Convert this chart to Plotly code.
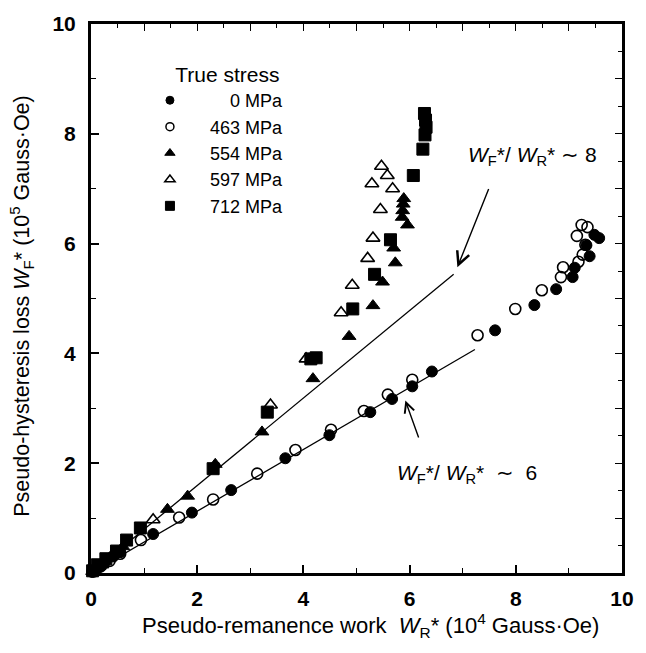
import plotly.graph_objects as go

# ---------------- data ----------------
# True stress 0 MPa (filled circles)
x_0 = [0.02, 0.12, 0.25, 0.42, 0.55, 1.17, 1.90, 2.64, 3.66, 4.49, 5.26, 5.67, 6.05, 6.42,
       7.61, 8.35, 8.76, 9.07, 9.11, 9.39, 9.33, 9.48, 9.57]
y_0 = [0.02, 0.08, 0.18, 0.30, 0.38, 0.71, 1.10, 1.51, 2.09, 2.51, 2.93, 3.17, 3.40, 3.67,
       4.42, 4.88, 5.17, 5.39, 5.56, 5.77, 5.97, 6.16, 6.10]

# 463 MPa (open circles)
x_463 = [0.05, 0.18, 0.35, 0.55, 0.94, 1.66, 2.30, 3.13, 3.85, 4.52, 5.14, 5.59, 6.05,
         7.28, 7.99, 8.49, 8.85, 8.89, 9.18, 9.26, 9.31, 9.15, 9.24, 9.35]
y_463 = [0.03, 0.12, 0.22, 0.35, 0.60, 1.01, 1.34, 1.81, 2.24, 2.61, 2.95, 3.25, 3.52,
         4.33, 4.81, 5.15, 5.39, 5.57, 5.67, 5.80, 5.98, 6.14, 6.34, 6.30]

# 554 MPa (filled triangles)
x_554 = [0.03, 0.15, 0.35, 0.60, 1.44, 1.82, 2.34, 3.22, 4.18, 4.86, 5.31, 5.49, 5.73,
         5.70, 5.96, 5.86, 5.87, 5.88, 5.89]
y_554 = [0.03, 0.12, 0.28, 0.48, 1.16, 1.40, 1.98, 2.57, 3.54, 4.31, 4.87, 5.30, 5.65,
         5.92, 6.34, 6.48, 6.60, 6.72, 6.82]

# 597 MPa (open triangles)
x_597 = [0.05, 0.20, 0.45, 1.17, 3.38, 4.05, 4.71, 4.92, 5.21, 5.31, 5.45, 5.29, 5.68,
         5.58, 5.47]
y_597 = [0.04, 0.15, 0.35, 0.97, 3.06, 3.90, 4.74, 5.24, 5.73, 6.10, 6.62, 7.09, 7.00,
         7.24, 7.41]

# 712 MPa (filled squares)
x_712 = [0.03, 0.12, 0.28, 0.48, 0.67, 0.93, 2.30, 3.32, 4.14, 4.24, 4.93, 5.34, 5.64,
         6.07, 6.25, 6.29, 6.31, 6.30, 6.28]
y_712 = [0.04, 0.15, 0.26, 0.40, 0.60, 0.82, 1.90, 2.93, 3.90, 3.92, 4.81, 5.44, 6.07,
         7.24, 7.72, 7.98, 8.12, 8.25, 8.37]

# guide lines
line8_x = [0.0, 6.83]
line8_y = [0.0, 5.44]
line6_x = [0.0, 7.23]
line6_y = [0.0, 4.07]

series_names = ["\u2007\u2007\u2007\u20070 MPa", "\u2007\u2007463 MPa",
                "\u2007\u2007554 MPa", "\u2007\u2007597 MPa", "\u2007\u2007712 MPa"]

FONT = "Liberation Sans, Arial, Helvetica, sans-serif"

fig = go.Figure()

# guide lines (no legend)
for lx, ly in [(line8_x, line8_y), (line6_x, line6_y)]:
    fig.add_trace(go.Scatter(x=lx, y=ly, mode="lines", line=dict(color="black", width=1.3),
                             showlegend=False, hoverinfo="skip", cliponaxis=False))

symbols = ["circle", "circle-open", "triangle-up", "triangle-up-open", "square"]
sizes = [11, 11, 12, 12, 12]
legend_sizes = [8, 8, 9, 9, 9]
data = [(x_0, y_0), (x_463, y_463), (x_554, y_554), (x_597, y_597), (x_712, y_712)]

for (sx, sy), sym, sz, lsz, name in zip(data, symbols, sizes, legend_sizes, series_names):
    is_open = sym.endswith("open")
    mk = dict(symbol=sym, size=sz, color="black",
              line=dict(color="black", width=1.6 if is_open else 1))
    fig.add_trace(go.Scatter(x=sx, y=sy, mode="markers", name=name, marker=mk,
                             cliponaxis=False, showlegend=False, legendgroup=name))
    # legend entry (smaller symbol, no data)
    lmk = dict(mk, size=lsz, line=dict(color="black", width=1.5 if is_open else 1))
    fig.add_trace(go.Scatter(x=[None], y=[None], mode="markers", name=name, marker=lmk,
                             showlegend=True, legendgroup=name))

# dummy trace for top/right axes
fig.add_trace(go.Scatter(x=[None], y=[None], xaxis="x2", yaxis="y2", showlegend=False,
                         hoverinfo="skip"))

axis_common = dict(range=[0, 10], showgrid=False, zeroline=False, showline=True,
                   linecolor="black", linewidth=3, ticks="inside", tickcolor="black")
TICKFONT = dict(size=21, family=FONT, weight="bold")

fig.update_layout(
    width=646, height=653,
    margin=dict(l=91, r=16, t=16, b=80),
    paper_bgcolor="white", plot_bgcolor="white",
    font=dict(family=FONT, color="black", size=20),
    xaxis=dict(**axis_common, dtick=2, tick0=0, ticklen=8, tickwidth=1.5,
               tickfont=TICKFONT, ticklabelstandoff=5,
               minor=dict(dtick=1, ticklen=5, tickwidth=1.3, ticks="inside", tickcolor="black")),
    yaxis=dict(**axis_common, dtick=2, tick0=0, ticklen=8, tickwidth=1.5,
               tickfont=TICKFONT, ticklabelstandoff=8,
               minor=dict(dtick=1, ticklen=5, tickwidth=1.3, ticks="inside", tickcolor="black")),
    xaxis2=dict(**axis_common, overlaying="x", side="top", anchor="y2", dtick=1, tick0=0,
                ticklen=7, tickwidth=1.3, showticklabels=False,
                minor=dict(dtick=0.5, ticklen=4, tickwidth=1.2, ticks="inside", tickcolor="black")),
    yaxis2=dict(**axis_common, overlaying="y", side="right", anchor="x2", dtick=1, tick0=0,
                ticklen=7, tickwidth=1.3, showticklabels=False,
                minor=dict(dtick=0.5, ticklen=4, tickwidth=1.2, ticks="inside", tickcolor="black")),
    legend=dict(x=0.111, y=0.944, xanchor="left", yanchor="top",
                bgcolor="rgba(0,0,0,0)", borderwidth=0,
                font=dict(size=18, family=FONT),
                title=dict(text="\u00a0\u00a0\u00a0\u00a0True stress", font=dict(size=21, family=FONT)),
                tracegroupgap=0),
    showlegend=True,
)

# axis titles
fig.add_annotation(xref="paper", yref="paper", x=0.527, y=0, yshift=-52, yanchor="middle",
                   showarrow=False, font=dict(size=22, family=FONT),
                   text="Pseudo-remanence work  <i>W</i><sub>R</sub>* (10<sup>4</sup> Gauss·Oe)")
fig.add_annotation(xref="paper", yref="paper", x=0, xshift=-69, y=0.485, xanchor="center",
                   textangle=-90, showarrow=False, font=dict(size=21.5, family=FONT),
                   text="Pseudo-hysteresis loss <i>W</i><sub>F</sub>* (10<sup>5</sup> Gauss·Oe)")

# ratio labels
fig.add_annotation(x=8.31, y=7.59, showarrow=False, font=dict(size=21, family=FONT),
                   text="<i>W</i><sub>F</sub>*/ <i>W</i><sub>R</sub>* ∼ 8")
fig.add_annotation(x=7.09, y=1.81, showarrow=False, font=dict(size=21, family=FONT),
                   text="<i>W</i><sub>F</sub>*/ <i>W</i><sub>R</sub>*  ∼  6")

# arrows
fig.add_annotation(x=6.90, y=5.57, ax=7.50, ay=7.02, axref="x", ayref="y", text="",
                   showarrow=True, arrowhead=5, arrowsize=1.8, arrowwidth=1.4, arrowcolor="black")
fig.add_annotation(x=5.92, y=3.14, ax=6.18, ay=2.44, axref="x", ayref="y", text="",
                   showarrow=True, arrowhead=5, arrowsize=1.4, arrowwidth=1.4, arrowcolor="black")

fig.write_html("out.html")
